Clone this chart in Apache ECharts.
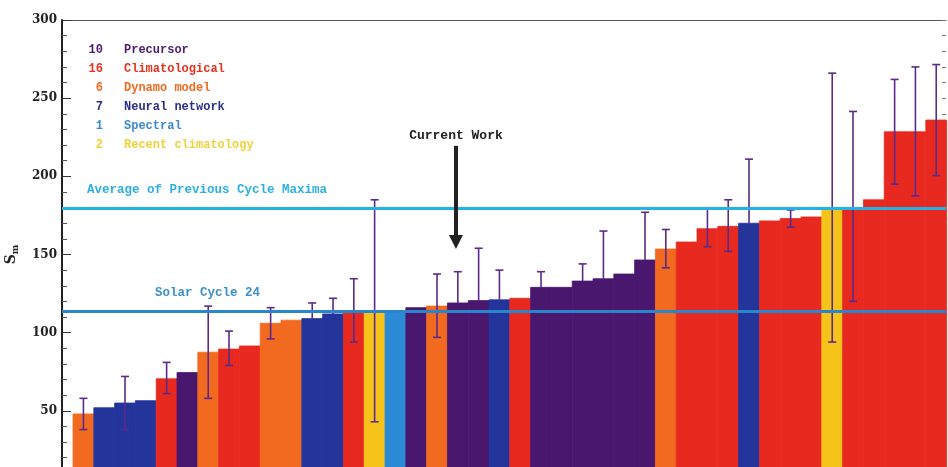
<!DOCTYPE html>
<html>
<head>
<meta charset="utf-8">
<script src="https://cdn.jsdelivr.net/npm/echarts@6/dist/echarts.min.js"></script>
<style>
  html, body { margin: 0; padding: 0; background: #ffffff; }
  #chart { width: 948px; height: 467px; }
</style>
</head>
<body>
<div id="chart"></div>
<script>
// Predicted maximum sunspot number for solar cycle 24, sorted by value,
// one bar per prediction, coloured by prediction method.
const barValues = [
  48, 52, 55, 56.5, 70.5, 74.5, 87.5, 89.5, 91.5, 106,
  108, 109, 112, 113, 113, 114, 116, 117, 119, 120.5,
  121, 122, 129, 129, 133, 134.5, 137.5, 146.5, 153.5, 158,
  166.5, 168, 170, 171.5, 173, 174, 179, 179, 185, 228.5,
  228.5, 236
];
// P precursor, C climatological, D dynamo, N neural network, S spectral, R recent climatology
const barMethods = [
  'D', 'N', 'N', 'N', 'C', 'P', 'D', 'C', 'C', 'D',
  'D', 'N', 'N', 'C', 'R', 'S', 'P', 'D', 'P', 'P',
  'N', 'C', 'P', 'P', 'P', 'P', 'P', 'P', 'D', 'C',
  'C', 'C', 'N', 'C', 'C', 'C', 'R', 'C', 'C', 'C',
  'C', 'C'
];
// Uncertainty range of each prediction (null where none is given)
const errLow = [
  38, null, 38, null, 61, null, 58, 79, null, 96,
  null, null, null, 94, 43, null, null, 97, null, null,
  null, null, null, null, null, null, null, null, 141.5, null,
  155, 152, null, null, 167.5, null, 94, 120, null, 195,
  187.5, 200.5
];
const errHigh = [
  58, null, 72, null, 81, null, 117, 101, null, 116,
  null, 119, 122, 134.5, 185, null, null, 137.5, 139, 154,
  140, null, 139, null, 144, 165, null, 177, 166, null,
  179, 185, 211, null, 178.5, null, 266, 241.5, null, 262,
  270, 271.5
];

const methodKeys   = ['P', 'C', 'D', 'N', 'S', 'R'];
const methodNames  = ['Precursor', 'Climatological', 'Dynamo model', 'Neural network', 'Spectral', 'Recent climatology'];
const methodColors = ['#4a176f', '#e8291f', '#f26a1f', '#23359b', '#2b8bd6', '#f6c31b'];
const methodTextColors = ['#4b1c70', '#e8301f', '#f06a1e', '#2b2f8e', '#3b8bd0', '#f0d23a'];

const avgPreviousMax = 179.5;
const cycle24Max = 114;
const yTicks = { min: 0, max: 300, interval: 50 };

const monoFont = '"Liberation Mono", "DejaVu Sans Mono", monospace';
const serifFont = '"DejaVu Serif", "Liberation Serif", serif';

// legend block: count of predictions per method, then method name
const methodCounts = methodKeys.map(k => barMethods.filter(m => m === k).length);
const legendElements = [];
methodKeys.forEach((k, j) => {
  const y = 50 + 19 * j;
  const base = {
    fill: methodTextColors[j], fontFamily: monoFont, fontWeight: 'bold', fontSize: 12,
    verticalAlign: 'middle'
  };
  legendElements.push({
    type: 'text', x: 103, y: y, silent: true,
    style: Object.assign({ text: String(methodCounts[j]), align: 'right' }, base)
  });
  legendElements.push({
    type: 'text', x: 124, y: y, silent: true,
    style: Object.assign({ text: methodNames[j], align: 'left' }, base)
  });
});

const barData = barValues.map((v, i) => [i, v, methodKeys.indexOf(barMethods[i])]);
const errData = barValues.map((v, i) => [i, errLow[i], errHigh[i], v])
  .filter(d => d[2] !== null);

const chart = echarts.init(document.getElementById('chart'), null, { renderer: 'canvas' });

chart.setOption({
  animation: false,
  backgroundColor: '#ffffff',
  graphic: { elements: legendElements },
  grid: {
    left: 62, right: 2, top: 20, bottom: -22,
    containLabel: false, outerBoundsMode: 'none'
  },
  xAxis: {
    type: 'value', min: -1.03, max: 41.47, position: 'top',
    axisLine: { show: true, onZero: false, lineStyle: { color: '#555', width: 1.2 } },
    axisTick: { show: false }, axisLabel: { show: false }, splitLine: { show: false }
  },
  yAxis: [{
    type: 'value', min: yTicks.min, max: yTicks.max, interval: yTicks.interval,
    name: '{s|S}{m|m}', nameLocation: 'middle', nameGap: 42, nameRotate: 90,
    nameTextStyle: {
      rich: {
        s: { fontFamily: serifFont, fontWeight: 'bold', fontSize: 14, color: '#222' },
        m: { fontFamily: serifFont, fontWeight: 'bold', fontSize: 9, color: '#222', padding: [8, 0, 0, 0] }
      }
    },
    axisLine: { show: true, onZero: false, lineStyle: { color: '#222', width: 2 } },
    axisTick: { show: true, inside: true, length: 9, lineStyle: { color: '#333', width: 1 } },
    minorTick: { show: true, splitNumber: 5, length: 5, lineStyle: { color: '#555', width: 1 } },
    axisLabel: {
      fontFamily: serifFont, fontWeight: 'bold', fontSize: 12, color: '#222', margin: 5
    },
    splitLine: { show: false }
  }, {
    type: 'value', min: yTicks.min, max: yTicks.max, interval: 10, position: 'right',
    axisLine: { show: false, onZero: false },
    axisTick: { show: true, inside: true, length: 4, lineStyle: { color: '#777', width: 1 } },
    axisLabel: { show: false }, splitLine: { show: false }
  }],
  series: [{
    // prediction bars, each one category wide
    type: 'custom',
    data: barData,
    renderItem: function (params, api) {
      const i = api.value(0);
      const top = api.coord([i - 0.5, api.value(1)]);
      const base = api.coord([i + 0.5, 0]);
      const c = methodColors[api.value(2)];
      return {
        type: 'rect',
        shape: { x: top[0], y: top[1], width: base[0] - top[0], height: base[1] - top[1] },
        style: { fill: c, stroke: c, lineWidth: 0.8 }
      };
    },
    z: 2
  }, {
    // reference lines and the arrow
    type: 'custom',
    data: [],
    renderItem: function () { return null; },
    markLine: {
      silent: true,
      symbol: ['none', 'none'],
      data: [
        {
          yAxis: avgPreviousMax,
          lineStyle: { color: '#22b2e6', width: 3, type: 'solid' },
          label: {
            show: true, position: 'insideStartTop', distance: [25, 12],
            formatter: 'Average of Previous Cycle Maxima',
            fontFamily: monoFont, fontWeight: 'bold', fontSize: 12.5, color: '#2cb0e2'
          }
        },
        {
          yAxis: cycle24Max,
          lineStyle: { color: '#2a86cc', width: 3, type: 'solid' },
          label: {
            show: true, position: 'insideStartTop', distance: [93, 11],
            formatter: 'Solar Cycle 24',
            fontFamily: monoFont, fontWeight: 'bold', fontSize: 12.5, color: '#3a8fcc'
          }
        },
        [
          {
            coord: [17.91, 219.5], symbol: 'none',
            lineStyle: { color: '#222', width: 4, type: 'solid' },
            label: {
              show: true, position: 'start', distance: 4, formatter: 'Current Work',
              fontFamily: monoFont, fontWeight: 'bold', fontSize: 13, color: '#222'
            }
          },
          { coord: [17.91, 158], symbol: 'triangle', symbolSize: [14, 14] }
        ]
      ]
    },
    z: 3
  }, {
    // uncertainty ranges
    type: 'custom',
    data: errData,
    renderItem: function (params, api) {
      const i = api.value(0);
      const lowVal = api.value(1);
      const hasLow = !isNaN(lowVal) && lowVal !== null && lowVal !== '-';
      const hi = api.coord([i, api.value(2)]);
      const lo = api.coord([i, hasLow ? lowVal : api.value(3)]);
      const stroke = { stroke: '#5a2b8a', lineWidth: 1.6 };
      const cap = 4;
      const children = [
        { type: 'line', shape: { x1: hi[0], y1: hi[1], x2: lo[0], y2: lo[1] }, style: stroke },
        { type: 'line', shape: { x1: hi[0] - cap, y1: hi[1], x2: hi[0] + cap, y2: hi[1] }, style: stroke }
      ];
      if (hasLow) {
        children.push({ type: 'line', shape: { x1: lo[0] - cap, y1: lo[1], x2: lo[0] + cap, y2: lo[1] }, style: stroke });
      }
      return { type: 'group', children: children };
    },
    z: 4
  }]
});
</script>
</body>
</html>
